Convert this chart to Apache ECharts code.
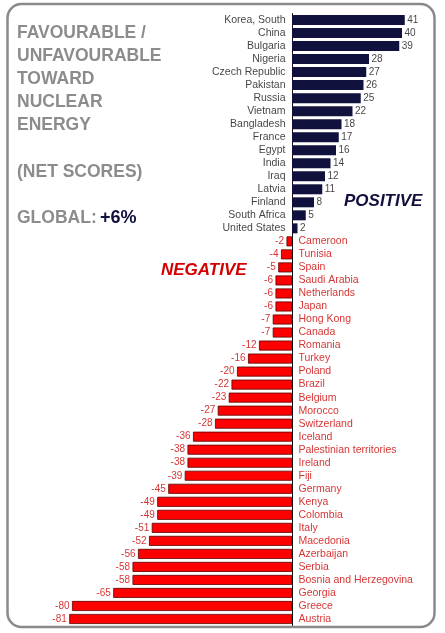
<!DOCTYPE html>
<html><head><meta charset="utf-8">
<script src="https://cdn.jsdelivr.net/npm/echarts@6/dist/echarts.min.js"></script>
<style>html,body{margin:0;padding:0;background:#fff}#c{width:445px;height:633px}</style>
</head><body><div id="c"></div>
<script>
const countries = ["Korea, South","China","Bulgaria","Nigeria","Czech Republic","Pakistan","Russia","Vietnam","Bangladesh","France","Egypt","India","Iraq","Latvia","Finland","South Africa","United States",
"Cameroon","Tunisia","Spain","Saudi Arabia","Netherlands","Japan","Hong Kong","Canada","Romania","Turkey","Poland","Brazil","Belgium","Morocco","Switzerland","Iceland","Palestinian territories","Ireland","Fiji","Germany","Kenya","Colombia","Italy","Macedonia","Azerbaijan","Serbia","Bosnia and Herzegovina","Georgia","Greece","Austria"];
const netScores = [41,40,39,28,27,26,25,22,18,17,16,14,12,11,8,5,2,
-2,-4,-5,-6,-6,-6,-7,-7,-12,-16,-20,-22,-23,-27,-28,-36,-38,-38,-39,-45,-49,-49,-51,-52,-56,-58,-58,-65,-80,-81];
const titleLines = ["FAVOURABLE /","UNFAVOURABLE","TOWARD","NUCLEAR","ENERGY"];
const subTitle = "(NET SCORES)";
const globalLabel = "GLOBAL:";
const globalValue = "+6%";

const NAVY = '#11113d', RED = '#ff0000', RED_TXT = '#cc0000', GRAY = '#8c8c8c';
const LBL_FONT = "'Liberation Sans',Arial,sans-serif";
const TITLE_FONT = "'Liberation Sans',Arial,sans-serif";

const chart = echarts.init(document.getElementById('c'), null, {renderer:'canvas'});

const barData = netScores.map(v => ({
  value: v,
  itemStyle: v >= 0 ? {color: NAVY} : {color: RED, borderColor: '#5a0000', borderWidth: 0.8}
}));
const nameData = countries.map((c, i) => {
  const pos = netScores[i] >= 0;
  return {
    value: [0, i], name: c,
    label: {position: pos ? 'left' : 'right', distance: 6, color: pos ? '#111' : RED_TXT}
  };
});
const valData = netScores.map((v, i) => ({
  value: [v, i],
  label: {position: v >= 0 ? 'right' : 'left', distance: 2, color: v >= 0 ? '#111' : RED_TXT}
}));

const graphics = [
  {type:'rect', shape:{x:7.5, y:4, width:427, height:623, r:14}, style:{fill:'none', stroke:'#8a8a8a', lineWidth:2.5}, z:-10}
];
const lineY = [33,56,79,102,125];
titleLines.forEach((t, i) => graphics.push({
  type:'text', x:17, y:lineY[i], style:{text:t, fill:GRAY, font:"bold 17.5px " + TITLE_FONT, textVerticalAlign:'middle'}
}));
graphics.push({type:'text', x:17, y:172, style:{text:subTitle, fill:GRAY, font:"bold 17.5px " + TITLE_FONT, textVerticalAlign:'middle'}});
graphics.push({type:'text', x:17, y:218, style:{
  text:'{a|' + globalLabel + '} {b|' + globalValue + '}', textVerticalAlign:'middle',
  rich:{a:{fill:GRAY, font:"bold 17.5px " + TITLE_FONT}, b:{fill:NAVY, font:"bold 18px " + TITLE_FONT}}
}});
graphics.push({type:'text', x:344, y:201, style:{text:'POSITIVE', fill:NAVY, font:"italic bold 17px " + TITLE_FONT, textVerticalAlign:'middle'}});
graphics.push({type:'text', x:161, y:270, style:{text:'NEGATIVE', fill:'#d40000', font:"italic bold 17px " + TITLE_FONT, textVerticalAlign:'middle'}});

chart.setOption({
  animation:false,
  backgroundColor:'#fff',
  graphic: graphics,
  grid:{left:44.5, width:385, top:13.5, height:612},
  xAxis:{type:'value', min:-90, max:50, show:false},
  yAxis:{type:'category', inverse:true, data:countries, axisTick:{show:false}, axisLabel:{show:false},
    axisLine:{show:true, onZero:true, lineStyle:{color:'#111', width:1}}},
  series:[
    {type:'bar', data:barData, barWidth:10, z:2},
    {type:'scatter', data:nameData, symbol:'rect', symbolSize:1, itemStyle:{color:'transparent'}, silent:true,
      label:{show:true, formatter:p => p.name, fontFamily:LBL_FONT, fontSize:10.5}},
    {type:'scatter', data:valData, symbol:'rect', symbolSize:1, itemStyle:{color:'transparent'}, silent:true,
      label:{show:true, formatter:p => String(p.value[0]), fontFamily:LBL_FONT, fontSize:10}}
  ]
});
</script></body></html>
